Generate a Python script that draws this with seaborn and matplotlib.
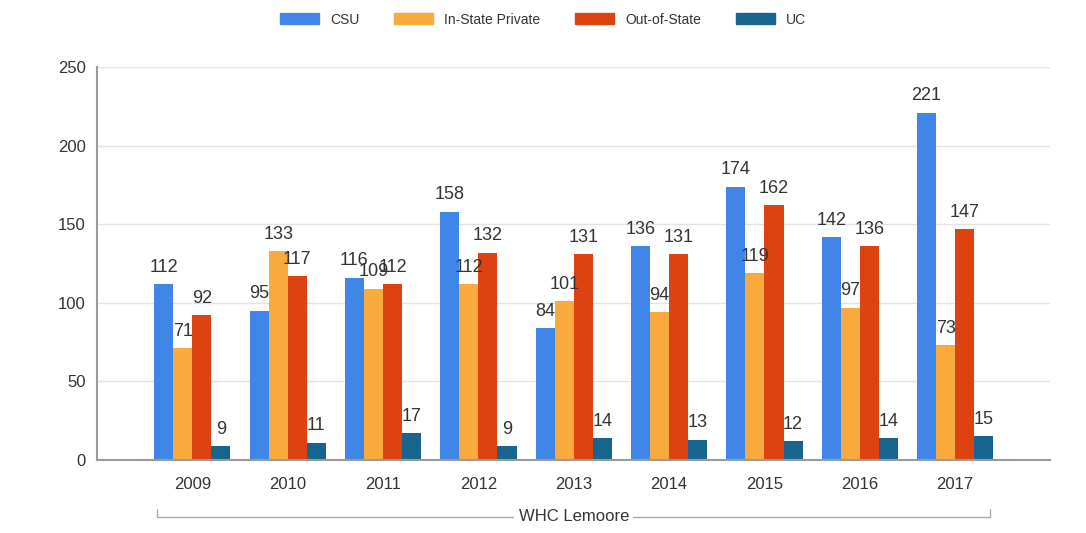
import numpy as np
import pandas as pd
import matplotlib
matplotlib.use("Agg")
import matplotlib.pyplot as plt
import seaborn as sns

# data
years = ["2009", "2010", "2011", "2012", "2013", "2014", "2015", "2016", "2017"]
series = ["CSU", "In-State Private", "Out-of-State", "UC"]
csu = [112, 95, 116, 158, 84, 136, 174, 142, 221]
in_state = [71, 133, 109, 112, 101, 94, 119, 97, 73]
out_state = [92, 117, 112, 132, 131, 131, 162, 136, 147]
uc = [9, 11, 17, 9, 14, 13, 12, 14, 15]
group_label = "WHC Lemoore"

colors = ["#4086E8", "#F9AA3C", "#DC4311", "#17658F"]

rows = []
for name, vals in zip(series, [csu, in_state, out_state, uc]):
    for yr, v in zip(years, vals):
        rows.append({"year": yr, "series": name, "value": v})
df = pd.DataFrame(rows)

sns.set_theme(style="white")
plt.rcParams['font.family'] = ['Liberation Sans', 'DejaVu Sans']

fig = plt.figure(figsize=(10.86, 5.33), dpi=100)
ax = fig.add_axes([0.0893, 0.137, 0.878, 0.737])

sns.barplot(data=df, x="year", y="value", hue="series", order=years,
            hue_order=series, palette=colors, width=0.8, gap=0, saturation=1,
            linewidth=0, ax=ax, legend=False)

for cont in ax.containers:
    ax.bar_label(cont, padding=6, fontsize=13, color="#333333")

ax.set_xlim(-1, 9)
ax.set_ylim(0, 250)
ax.set_yticks([0, 50, 100, 150, 200, 250])
ax.yaxis.grid(True, color="#e3e3e3", linewidth=1)
ax.set_axisbelow(True)
ax.set_xlabel("")
ax.set_ylabel("")
for s in ["top", "right"]:
    ax.spines[s].set_visible(False)
ax.spines["left"].set_color("#9a9a9a")
ax.spines["bottom"].set_color("#9a9a9a")
ax.spines["left"].set_linewidth(1.5)
ax.spines["bottom"].set_linewidth(1.5)
ax.tick_params(axis="y", length=4, color="#bbbbbb", labelsize=12, labelcolor="#333333", pad=4)
ax.tick_params(axis="x", length=0, labelsize=12, labelcolor="#333333", pad=12)

# category bracket under the years
yb = -0.145
x0, x1 = -0.37, 8.37
trans = ax.get_xaxis_transform()
ax.plot([x0, x0, x1, x1], [yb + 0.02, yb, yb, yb + 0.02], transform=trans,
        color="#aaaaaa", linewidth=1, clip_on=False)
ax.text(4, yb, group_label, transform=trans, ha="center", va="center",
        fontsize=12, color="#333333",
        bbox=dict(facecolor="white", edgecolor="none", pad=3))

# legend on top
handles = [plt.Rectangle((0, 0), 1, 1, color=c) for c in colors]
fig.legend(handles, series, loc="upper center", bbox_to_anchor=(0.5, 1.0),
           ncol=4, frameon=False, fontsize=10, handlelength=2.8, handleheight=0.9,
           columnspacing=2.5, labelcolor="#333333")

fig.savefig("out.png", dpi=100)
